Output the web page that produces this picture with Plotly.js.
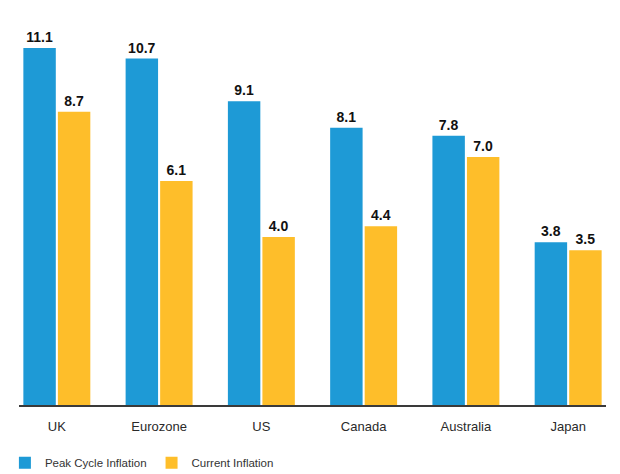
<!DOCTYPE html>
<html>
<head>
<meta charset="utf-8">
<script src="https://cdn.plot.ly/plotly-3.0.1.min.js"></script>
<style>html,body{margin:0;padding:0;background:#fff;}#chart{width:620px;height:474px;}</style>
</head>
<body>
<div id="chart"></div>
<script>
const categories = ['UK', 'Eurozone', 'US', 'Canada', 'Australia', 'Japan'];
const peakInflation = [11.1, 10.7, 9.1, 8.1, 7.8, 3.8];
const currentInflation = [8.7, 6.1, 4.0, 4.4, 7.0, 3.5];
const seriesNames = ['Peak Cycle Inflation', 'Current Inflation'];

// The reference chart's bars start below the zero line (axis floor).
const AXIS_FLOOR = -2.31;

function barTrace(vals, name, color) {
  return {
    type: 'bar',
    x: categories,
    y: vals.map(v => v - AXIS_FLOOR),
    base: AXIS_FLOOR,
    text: vals.map(v => v.toFixed(1)),
    texttemplate: '%{text}',
    textposition: 'outside',
    cliponaxis: false,
    textfont: {family: 'Liberation Sans, Arial, sans-serif', size: 14, color: '#111', weight: 'bold'},
    name: name,
    marker: {color: color},
    hoverinfo: 'skip'
  };
}

const data = [
  barTrace(peakInflation, seriesNames[0], '#1E9AD6'),
  barTrace(currentInflation, seriesNames[1], '#FEBE2A')
];

const layout = {
  width: 620, height: 474,
  margin: {l: 19, r: 14, t: 20, b: 69, autoexpand: false},
  paper_bgcolor: '#fff', plot_bgcolor: '#fff',
  barmode: 'group', bargap: 0.325, bargroupgap: 0.06,
  font: {family: 'Liberation Sans, Arial, sans-serif', color: '#333'},
  xaxis: {
    range: [-0.37, 5.37], showline: true, linecolor: '#3a3a3a', linewidth: 1.5,
    showgrid: false, zeroline: false, ticks: '', ticklabelstandoff: 9,
    tickfont: {size: 13, color: '#2a2a2a'}, fixedrange: true, automargin: false
  },
  yaxis: {range: [AXIS_FLOOR, 12.15], visible: false, showgrid: false, zeroline: false, fixedrange: true, automargin: false},
  showlegend: true,
  legend: {
    orientation: 'h', x: -0.024, xanchor: 'left', y: -0.15, yanchor: 'middle',
    font: {size: 11.5, color: '#333'}, itemwidth: 30, traceorder: 'normal'
  }
};

Plotly.newPlot('chart', data, layout, {displayModeBar: false, staticPlot: true});
</script>
</body>
</html>
